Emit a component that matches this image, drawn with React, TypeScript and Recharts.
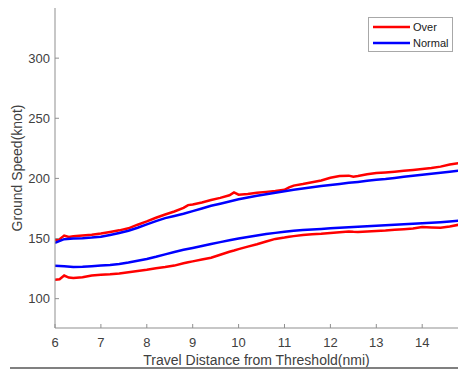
import { LineChart, Line, XAxis, YAxis, Legend } from "recharts"

// distance grid for the "Normal" curves (nmi)
const normalDist = [
  6.0, 6.2, 6.4, 6.6, 6.8, 7.0, 7.2, 7.4, 7.6, 7.8, 8.0, 8.2, 8.4, 8.6, 8.8,
  9.0, 9.2, 9.4, 9.6, 9.8, 10.0, 10.2, 10.4, 10.6, 10.8, 11.0, 11.2, 11.4,
  11.6, 11.8, 12.0, 12.2, 12.4, 12.6, 12.8, 13.0, 13.2, 13.4, 13.6, 13.8,
  14.0, 14.2, 14.4, 14.6, 14.8,
]
const normalUpper = [
  146.5, 149.5, 150, 150.3, 150.8, 151.5, 153, 154.6, 156.5, 159, 161.8,
  164.5, 167, 168.8, 170.6, 172.8, 175, 177.3, 179, 180.8, 182.6, 184.2,
  185.5, 186.8, 188, 189.3, 190.6, 191.6, 192.6, 193.6, 194.5, 195.4, 196.3,
  197.1, 198, 198.8, 199.5, 200.4, 201.3, 202.2, 203, 203.8, 204.7, 205.6,
  206.5,
]
const normalLower = [
  127.3, 127, 126.3, 126.5, 127, 127.5, 128, 128.8, 130, 131.5, 133, 134.8,
  136.8, 138.8, 140.6, 142.2, 143.8, 145.5, 147, 148.6, 150, 151.3, 152.5,
  153.7, 154.7, 155.6, 156.4, 157.1, 157.6, 158, 158.5, 159, 159.3, 159.7,
  160.2, 160.6, 161, 161.4, 161.8, 162.3, 162.7, 163.1, 163.6, 164.2, 164.8,
]

// distance grid for the "Over" curves (nmi)
const overDist = [
  6.0, 6.1, 6.2, 6.3, 6.4, 6.6, 6.8, 7.0, 7.2, 7.4, 7.6, 7.8, 8.0, 8.2, 8.4,
  8.6, 8.8, 8.9, 9.0, 9.2, 9.4, 9.6, 9.8, 9.9, 10.0, 10.2, 10.4, 10.6, 10.8,
  11.0, 11.1, 11.2, 11.4, 11.6, 11.8, 12.0, 12.2, 12.4, 12.5, 12.6, 12.8,
  13.0, 13.2, 13.4, 13.6, 13.8, 14.0, 14.2, 14.4, 14.6, 14.8,
]
const overUpper = [
  148.5, 149.5, 152.5, 151.3, 151.8, 152.5, 153.2, 154.2, 155.5, 156.8,
  158.5, 161.5, 164.2, 167.3, 170, 172.5, 175.5, 177.8, 178.3, 180, 182,
  183.8, 186, 188.3, 186.5, 187, 188, 188.8, 189.5, 190.5, 192.5, 194, 195.3,
  196.8, 198.3, 200.5, 202, 202.3, 201.4, 202, 203.5, 204.5, 205, 205.6,
  206.3, 207, 207.8, 208.7, 209.8, 211.5, 212.8,
]
const overLower = [
  115.8, 116.2, 119.2, 117.5, 117.2, 117.8, 119.3, 119.8, 120.2, 121, 122,
  123, 124, 125.3, 126.3, 127.5, 129.5, 130.3, 131, 132.5, 134, 136.5, 139,
  140, 141.2, 143.3, 145.3, 147.5, 149.7, 150.8, 151.5, 152, 153, 153.6, 154,
  154.6, 155.3, 155.9, 155.6, 155.4, 155.9, 156.3, 156.6, 157.2, 157.8,
  158.3, 159.5, 159.2, 159, 160, 161.5,
]

const xTicks = [6, 7, 8, 9, 10, 11, 12, 13, 14]
const yTicks = [100, 150, 200, 250, 300]
const legendOrder = ["Over", "Normal"]

const normalData = normalDist.map((d, i) => ({ d, upper: normalUpper[i], lower: normalLower[i] }))
const overData = overDist.map((d, i) => ({ d, upper: overUpper[i], lower: overLower[i] }))

const FONT = "'Liberation Sans', Arial, sans-serif"
const AXIS = "#8f8f8f"
const TEXT = "#404040"
const RED = "#ff0000"
const BLUE = "#0000ff"

function LegendBox({ payload }: { payload?: Array<{ value: string; color: string; type?: string }> }) {
  if (!payload) return null
  const items = payload
    .filter((p) => p.type !== "none" && legendOrder.includes(p.value))
    .sort((a, b) => legendOrder.indexOf(a.value) - legendOrder.indexOf(b.value))
  return (
    <div
      style={{
        width: 85,
        height: 35,
        border: "1px solid #a8a8a8",
        background: "#fff",
        fontFamily: FONT,
        fontSize: 11,
        color: "#202020",
        boxSizing: "border-box",
        paddingTop: 1,
      }}
    >
      {items.map((p) => (
        <div key={p.value} style={{ display: "flex", alignItems: "center", height: 16 }}>
          <svg width={44} height={6} style={{ flex: "none" }}>
            <line x1={4} x2={41} y1={3} y2={3} stroke={p.color} strokeWidth={2.5} />
          </svg>
          <span>{p.value}</span>
        </div>
      ))}
    </div>
  )
}

export default function App() {
  return (
    <div style={{ position: "absolute", left: 0, top: 0, width: 458, height: 370, background: "#fff" }}>
      <LineChart width={458} height={370} margin={{ top: 8, right: 0, left: 0, bottom: 0 }}>
        <XAxis
          xAxisId="top"
          orientation="top"
          type="number"
          dataKey="d"
          domain={[6, 14.78]}
          ticks={xTicks}
          height={0}
          stroke={AXIS}
          tickSize={-4}
          tickFormatter={() => ""}
          allowDataOverflow
        />
        <XAxis
          type="number"
          dataKey="d"
          domain={[6, 14.78]}
          ticks={xTicks}
          height={42}
          stroke={AXIS}
          tickSize={-4}
          tickMargin={14}
          tick={{ fill: TEXT, fontSize: 13, fontFamily: FONT }}
          allowDataOverflow
          label={{
            value: "Travel Distance from Threshold(nmi)",
            position: "insideBottom",
            offset: 5,
            fill: TEXT,
            fontSize: 14,
            fontFamily: FONT,
          }}
        />
        <YAxis
          type="number"
          domain={[75.6, 341.7]}
          ticks={yTicks}
          width={55}
          stroke={AXIS}
          tickSize={-4}
          tickMargin={9}
          tick={{ fill: TEXT, fontSize: 13, fontFamily: FONT }}
          allowDataOverflow
          label={{
            value: "Ground Speed(knot)",
            angle: -90,
            position: "insideLeft",
            offset: 17,
            fill: TEXT,
            fontSize: 14,
            fontFamily: FONT,
            style: { textAnchor: "middle" },
          }}
        />
        <Legend
          layout="vertical"
          align="center"
          verticalAlign="middle"
          wrapperStyle={{ top: 17, left: 368, width: 86, height: 36 }}
          content={<LegendBox />}
        />
        <Line data={overData} dataKey="upper" name="Over" stroke={RED} strokeWidth={2.5} dot={false} isAnimationActive={false} />
        <Line data={overData} dataKey="lower" name="Over (lower)" stroke={RED} strokeWidth={2.5} dot={false} legendType="none" isAnimationActive={false} />
        <Line data={normalData} dataKey="upper" name="Normal" stroke={BLUE} strokeWidth={2.5} dot={false} isAnimationActive={false} />
        <Line data={normalData} dataKey="lower" name="Normal (lower)" stroke={BLUE} strokeWidth={2.5} dot={false} legendType="none" isAnimationActive={false} />
      </LineChart>
      <div style={{ position: "absolute", left: 10, top: 367, width: 448, height: 1.5, background: "#808080" }} />
    </div>
  )
}
